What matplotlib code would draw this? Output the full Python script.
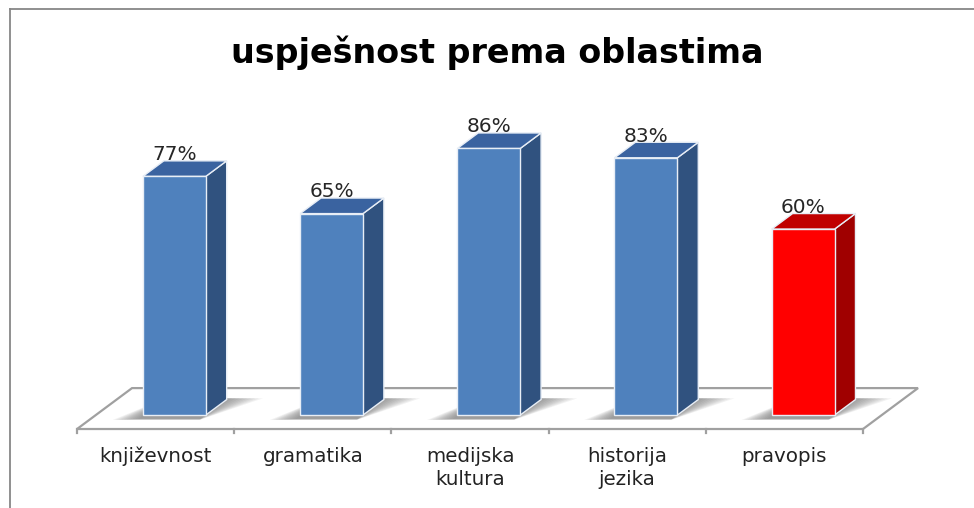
import numpy as np
import matplotlib
matplotlib.use("Agg")
import matplotlib.pyplot as plt
from matplotlib.patches import Polygon

categories = ["književnost", "gramatika", "medijska\nkultura", "historija\njezika", "pravopis"]
values = [77, 65, 86, 83, 60]
labels = ["77%", "65%", "86%", "83%", "60%"]
highlight = [False, False, False, False, True]

title = "uspješnost prema oblastima"

# pseudo 3d projection: depth z (0 front .. 1 back) shifts x and y
DX = 0.35
DH = 13.2
BAR_W = 0.40
Z1, Z2 = 0.34, 0.72

def proj(u, z, h):
    return (u + z * DX, h + z * DH)

fig = plt.figure(figsize=(9.74, 5.08), dpi=100)
ax = fig.add_axes([0, 0, 1, 1])
ax.set_xlim(-0.49, 5.706)
ax.set_ylim(-25.48, 138.39)
ax.axis('off')

n = len(categories)

# floor
floor = [proj(0, 0, 0), proj(n, 0, 0), proj(n, 1, 0), proj(0, 1, 0)]
ax.add_patch(Polygon(floor, closed=True, facecolor='white', edgecolor='#a0a0a0', lw=1.6, zorder=1))
for i in range(n + 1):
    ax.plot([i, i], [0, -1.4], color='#a0a0a0', lw=1.6, zorder=1)

colors = {
    False: ('#4f81bd', '#30527f', '#3a63a0'),
    True: ('#ff0000', '#a00000', '#c00000'),
}

for i, (v, hl) in enumerate(zip(values, highlight)):
    u0 = i + 0.5 - BAR_W / 2
    u1 = i + 0.5 + BAR_W / 2
    front_c, side_c, top_c = colors[hl]

    # soft shadow of the bar footprint, fading sideways
    for k in range(10):
        t = k / 9.0
        el = 0.15 * (1 - t)
        er = 0.22 * (1 - t)
        zf = Z1 - 0.09 - 0.03 * (1 - t)
        zb = Z2 + 0.03
        sh = [proj(u0 - el, zf, 0), proj(u1, zf, 0),
              proj(u1 + er, zb, 0), proj(u0, zb, 0)]
        ax.add_patch(Polygon(sh, closed=True, facecolor='#505050', edgecolor='none',
                             alpha=0.075, zorder=2))

    front = [proj(u0, Z1, 0), proj(u1, Z1, 0), proj(u1, Z1, v), proj(u0, Z1, v)]
    side = [proj(u1, Z1, 0), proj(u1, Z2, 0), proj(u1, Z2, v), proj(u1, Z1, v)]
    top = [proj(u0, Z1, v), proj(u1, Z1, v), proj(u1, Z2, v), proj(u0, Z2, v)]
    ax.add_patch(Polygon(side, closed=True, facecolor=side_c, edgecolor='#e8eef6', lw=1.0, zorder=3))
    ax.add_patch(Polygon(top, closed=True, facecolor=top_c, edgecolor='#e8eef6', lw=1.0, zorder=3))
    ax.add_patch(Polygon(front, closed=True, facecolor=front_c, edgecolor='#e8eef6', lw=1.0, zorder=4))

    tx, ty = proj(i + 0.5, Z1, v)
    ax.text(tx, v + Z2 * DH + 0.2, labels[i], ha='center', va='baseline',
            fontsize=14.5, color='#262626', zorder=5)

for i, c in enumerate(categories):
    ax.text(i + 0.5, -5.8, c, ha='center', va='top', fontsize=14.3,
            color='#222222', linespacing=1.3)

fig.text(0.511, 0.897, title, ha='center', va='center', fontsize=24,
         fontweight='bold', color='black')

# chart frame
ax.plot([-0.4264, -0.4264], [-25.48, 135.5], color='#878787', lw=1.3, clip_on=False)
ax.plot([-0.4264, 5.706], [135.5, 135.5], color='#878787', lw=1.3, clip_on=False)

fig.savefig("out.png", dpi=100)
